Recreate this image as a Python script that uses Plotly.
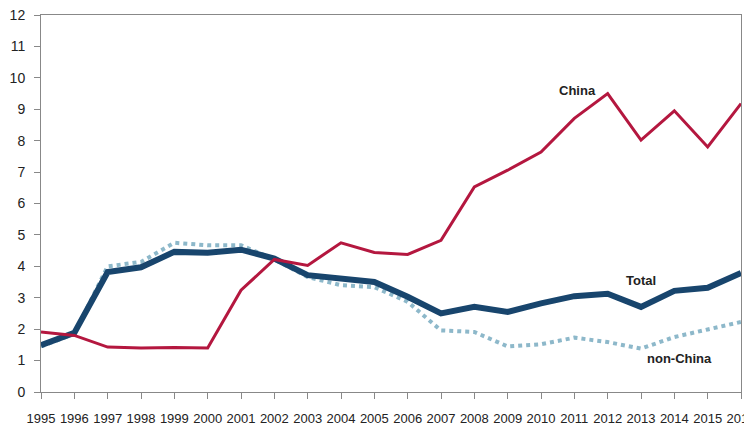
import plotly.graph_objects as go

years = list(range(1995, 2017))
china = [1.91, 1.80, 1.43, 1.40, 1.42, 1.40, 3.24, 4.22, 4.03, 4.75, 4.44, 4.38, 4.83,
         6.53, 7.06, 7.64, 8.71, 9.50, 8.02, 8.95, 7.80, 9.18]
total = [1.49, 1.88, 3.82, 3.97, 4.46, 4.43, 4.53, 4.25, 3.72, 3.61, 3.50, 3.03, 2.50,
         2.71, 2.55, 2.82, 3.05, 3.13, 2.71, 3.22, 3.32, 3.79]
non_china = [1.45, 1.85, 4.00, 4.14, 4.75, 4.67, 4.67, 4.22, 3.66, 3.40, 3.34, 2.87, 1.96,
             1.91, 1.45, 1.52, 1.73, 1.59, 1.38, 1.75, 1.99, 2.23]
y_ticks = list(range(0, 13))

font_fam = "Liberation Sans, Arial, sans-serif"

fig = go.Figure()
fig.add_trace(go.Scatter(x=years, y=non_china, mode="lines", name="non-China",
                         line=dict(color="#8db8ca", width=4, dash="dot")))
fig.add_trace(go.Scatter(x=years, y=total, mode="lines", name="Total",
                         line=dict(color="#18456d", width=6)))
fig.add_trace(go.Scatter(x=years, y=china, mode="lines", name="China",
                         line=dict(color="#b4173f", width=3)))

fig.add_annotation(x=2011.1, y=9.6, text="<b>China</b>", showarrow=False,
                   font=dict(size=13, color="#222", family=font_fam))
fig.add_annotation(x=2013.0, y=3.56, text="<b>Total</b>", showarrow=False,
                   font=dict(size=13, color="#222", family=font_fam))
fig.add_annotation(x=2014.14, y=1.07, text="<b>non-China</b>", showarrow=False,
                   font=dict(size=13, color="#222", family=font_fam))

fig.update_layout(
    width=744, height=423,
    margin=dict(l=33, r=11, t=7, b=39),
    plot_bgcolor="white", paper_bgcolor="white",
    showlegend=False,
    font=dict(family=font_fam, size=14, color="#222"),
)
fig.update_xaxes(range=[1995, 2016], tickmode="array", tickvals=years,
                 ticktext=[str(y) for y in years], showgrid=False, zeroline=False,
                 showline=True, linecolor="#888", linewidth=1, mirror=True,
                 ticks="outside", ticklen=6, tickcolor="#888", tickangle=0,
                 automargin=False, ticklabeloverflow="allow",
                 tickfont=dict(size=13), ticklabelstandoff=8)
fig.update_yaxes(range=[0, 12], tickmode="array", tickvals=y_ticks,
                 showgrid=False, zeroline=False, automargin=False,
                 ticklabeloverflow="allow",
                 showline=True, linecolor="#888", linewidth=1, mirror=True,
                 ticks="outside", ticklen=6, tickcolor="#888",
                 tickfont=dict(size=14), ticklabelstandoff=6)

fig.write_html("out.html")
